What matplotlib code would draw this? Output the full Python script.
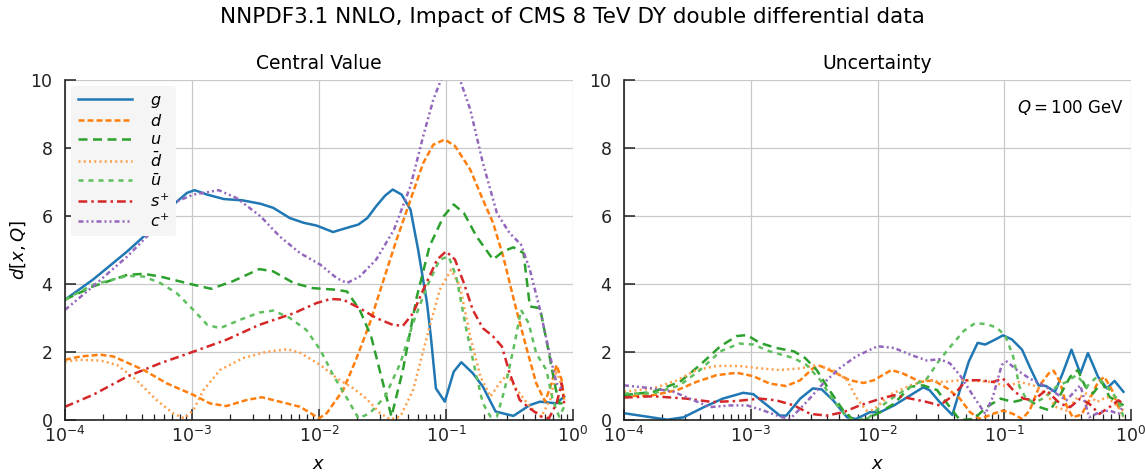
import numpy as np
from matplotlib import pyplot as plt
from matplotlib.ticker import LogLocator, NullFormatter

# ---- Central value panel (log10 x, value) ----
cv_g_lx = [-4, -3.78, -3.51, -3.38, -3.13, -3.04, -2.98, -2.88, -2.75, -2.60, -2.46, -2.36, -2.23, -2.12,
           -2.02, -1.89, -1.81, -1.69, -1.62, -1.55, -1.48, -1.42, -1.35, -1.28, -1.22, -1.15, -1.12, -1.08,
           -1.01, -0.94, -0.88, -0.79, -0.71, -0.61, -0.47, -0.34, -0.26, -0.13, -0.07]
cv_g_y = [3.54, 4.13, 4.96, 5.40, 6.39, 6.68, 6.76, 6.63, 6.50, 6.46, 6.36, 6.24, 5.94, 5.80,
          5.72, 5.53, 5.62, 5.75, 5.94, 6.29, 6.60, 6.78, 6.63, 6.19, 5.01, 3.44, 2.46, 0.93,
          0.54, 1.42, 1.70, 1.38, 0.98, 0.25, 0.12, 0.44, 0.54, 0.49, 0.69]

cv_d_lx = [-4, -3.88, -3.72, -3.62, -3.38, -3.20, -2.99, -2.86, -2.73, -2.57, -2.45, -2.31, -2.15, -2.00,
           -1.94, -1.81, -1.71, -1.60, -1.50, -1.39, -1.28, -1.18, -1.10, -1.01, -0.93, -0.81, -0.71,
           -0.63, -0.55, -0.46, -0.37, -0.29, -0.22, -0.17, -0.13, -0.09, -0.07]
cv_d_y = [1.77, 1.87, 1.92, 1.87, 1.47, 1.08, 0.74, 0.49, 0.41, 0.59, 0.67, 0.54, 0.39, 0.05,
          0.20, 0.88, 1.77, 2.85, 4.03, 5.30, 6.48, 7.56, 8.10, 8.25, 8.06, 7.37, 6.48,
          5.80, 4.81, 3.44, 2.16, 1.08, 0.54, 1.08, 1.62, 1.18, 0.59]

cv_u_lx = [-4, -3.78, -3.51, -3.38, -3.25, -2.99, -2.85, -2.68, -2.47, -2.36, -2.20, -2.05, -1.86, -1.78,
           -1.68, -1.59, -1.51, -1.43, -1.34, -1.23, -1.13, -1.02, -0.94, -0.86, -0.76, -0.63, -0.55,
           -0.47, -0.39, -0.34, -0.26, -0.20, -0.14, -0.11, -0.07]
cv_u_y = [3.54, 3.93, 4.27, 4.30, 4.22, 3.98, 3.86, 4.08, 4.44, 4.37, 4.03, 3.88, 3.83, 3.78,
          3.24, 2.46, 1.28, 0.10, 1.47, 3.63, 5.11, 5.99, 6.34, 6.09, 5.40, 4.72, 4.96,
          5.08, 4.91, 3.34, 3.29, 2.16, 0.98, 0.49, 0.49]

cv_dbar_lx = [-4, -3.88, -3.72, -3.59, -3.44, -3.28, -3.15, -3.06, -2.99, -2.91, -2.78, -2.60, -2.41, -2.25,
              -2.15, -1.99, -1.86, -1.73, -1.63, -1.52, -1.44, -1.36, -1.26, -1.15, -1.05, -0.96, -0.89,
              -0.81, -0.73, -0.65, -0.58, -0.52, -0.44, -0.34, -0.25, -0.18, -0.13, -0.08]
cv_dbar_y = [1.72, 1.77, 1.75, 1.62, 1.18, 0.59, 0.20, 0.05, 0.29, 0.88, 1.47, 1.82, 2.01, 2.08,
             1.98, 1.62, 1.23, 0.93, 0.64, 0.20, 0.02, 0.10, 0.88, 2.46, 3.83, 4.42, 3.93,
             2.46, 1.28, 0.69, 1.08, 1.33, 0.88, 0.39, 0.10, 0.59, 1.47, 0.88]

cv_ubar_lx = [-4, -3.78, -3.51, -3.38, -3.25, -3.12, -2.99, -2.88, -2.78, -2.62, -2.47, -2.36, -2.23, -2.10,
              -1.99, -1.89, -1.78, -1.69, -1.60, -1.48, -1.36, -1.26, -1.15, -1.05, -0.98, -0.92, -0.84,
              -0.76, -0.71, -0.65, -0.60, -0.54, -0.46, -0.41, -0.35, -0.29, -0.21, -0.16, -0.11, -0.07]
cv_ubar_y = [3.54, 3.98, 4.24, 4.22, 4.03, 3.73, 3.24, 2.80, 2.70, 2.95, 3.16, 3.22, 3.00, 2.65,
             2.06, 1.33, 0.64, 0.05, 0.20, 0.69, 1.67, 2.85, 3.93, 4.72, 4.81, 4.22, 2.65,
             1.28, 0.49, 0.10, 0.10, 0.88, 2.26, 3.24, 2.85, 1.96, 1.47, 0.59, 0.10, 0.39]

cv_s_lx = [-4, -3.78, -3.51, -3.25, -2.99, -2.73, -2.47, -2.20, -2.02, -1.91, -1.81, -1.68, -1.55, -1.42,
           -1.34, -1.26, -1.18, -1.07, -1.00, -0.93, -0.86, -0.79, -0.71, -0.63, -0.56, -0.50, -0.42,
           -0.34, -0.25, -0.19, -0.13, -0.09, -0.07]
cv_s_y = [0.39, 0.74, 1.28, 1.67, 2.01, 2.36, 2.80, 3.14, 3.44, 3.56, 3.54, 3.29, 3.00, 2.80,
          2.77, 3.14, 3.83, 4.72, 4.96, 4.72, 4.03, 3.24, 2.70, 2.46, 2.16, 1.38, 0.59,
          0.34, 0.10, 0.05, 0.49, 1.08, 0.49]

cv_c_lx = [-4, -3.78, -3.51, -3.25, -3.12, -2.99, -2.79, -2.65, -2.46, -2.31, -2.15, -1.99, -1.86, -1.78,
           -1.68, -1.55, -1.41, -1.28, -1.18, -1.10, -1.03, -0.96, -0.89, -0.81, -0.71, -0.60, -0.50,
           -0.41, -0.34, -0.26, -0.18, -0.13, -0.08]
cv_c_y = [3.24, 3.93, 4.81, 5.80, 6.43, 6.63, 6.76, 6.53, 5.99, 5.40, 4.91, 4.57, 4.17, 4.03,
          4.22, 4.72, 5.60, 6.88, 8.35, 9.43, 10.1, 10.4, 10.0, 9.14, 7.56, 6.09, 5.50,
          5.16, 4.42, 3.24, 1.87, 1.08, 0.88]

# ---- Uncertainty panel ----
un_g_lx = [-4, -3.82, -3.66, -3.53, -3.37, -3.22, -3.06, -2.98, -2.87, -2.77, -2.72, -2.61, -2.51, -2.44,
           -2.35, -2.24, -2.17, -2.06, -1.98, -1.87, -1.74, -1.64, -1.59, -1.51, -1.41, -1.35, -1.28,
           -1.21, -1.15, -1.07, -1.01, -0.94, -0.86, -0.80, -0.73, -0.67, -0.60, -0.54, -0.47, -0.40,
           -0.34, -0.26, -0.19, -0.13, -0.06]
un_g_y = [0.20, 0.10, 0.01, 0.08, 0.38, 0.63, 0.80, 0.76, 0.43, 0.13, 0.13, 0.63, 0.93, 0.90,
          0.58, 0.08, 0.03, 0.23, 0.23, 0.43, 0.73, 0.96, 0.88, 0.53, 0.15, 0.88, 1.72,
          2.27, 2.22, 2.37, 2.49, 2.37, 2.07, 1.57, 1.02, 1.00, 0.83, 1.37, 2.07, 1.37,
          1.97, 1.27, 0.93, 1.15, 0.83]

un_d_lx = [-4, -3.77, -3.58, -3.43, -3.27, -3.11, -2.98, -2.85, -2.72, -2.61, -2.51, -2.45, -2.35, -2.22,
           -2.11, -2.03, -1.89, -1.80, -1.66, -1.56, -1.45, -1.35, -1.27, -1.19, -1.09, -1.01, -0.93,
           -0.86, -0.80, -0.72, -0.65, -0.61, -0.56, -0.51, -0.46, -0.39, -0.33, -0.26, -0.21, -0.15,
           -0.10, -0.06]
un_d_y = [0.70, 0.73, 0.88, 1.12, 1.32, 1.39, 1.29, 1.07, 1.00, 1.17, 1.52, 1.59, 1.42, 1.17,
          1.09, 1.17, 1.47, 1.37, 1.12, 1.17, 0.93, 0.63, 0.23, 0.03, 0.18, 0.28, 0.18,
          0.03, 0.28, 1.02, 1.37, 1.45, 1.12, 0.43, 0.08, 0.16, 0.58, 1.12, 1.27, 0.88,
          0.38, 0.28]

un_u_lx = [-4, -3.77, -3.56, -3.40, -3.24, -3.11, -3.03, -2.93, -2.80, -2.66, -2.57, -2.48, -2.38, -2.27,
           -2.19, -2.10, -1.98, -1.87, -1.74, -1.64, -1.53, -1.43, -1.35, -1.24, -1.14, -1.03, -0.93,
           -0.82, -0.72, -0.64, -0.56, -0.48, -0.42, -0.36, -0.30, -0.23, -0.17, -0.10, -0.06]
un_u_y = [0.73, 0.83, 1.12, 1.62, 2.17, 2.47, 2.50, 2.27, 2.12, 2.02, 1.82, 1.47, 0.88, 0.28,
          0.0, 0.0, 0.23, 0.48, 0.98, 1.02, 0.88, 0.38, 0.0, 0.03, 0.38, 0.63, 0.53,
          0.63, 0.38, 0.28, 0.73, 1.27, 1.47, 0.98, 0.78, 1.12, 0.68, 0.53, 0.43]

un_dbar_lx = [-4, -3.77, -3.58, -3.43, -3.27, -3.09, -2.93, -2.77, -2.61, -2.48, -2.35, -2.24, -2.17, -2.09,
              -2.03, -1.90, -1.74, -1.61, -1.48, -1.35, -1.22, -1.09, -0.98, -0.88, -0.77, -0.67, -0.59,
              -0.51, -0.43, -0.35, -0.27, -0.19, -0.10, -0.06]
un_dbar_y = [0.83, 0.93, 1.17, 1.47, 1.59, 1.59, 1.52, 1.47, 1.52, 1.62, 1.47, 1.17, 0.68, 0.28,
             0.30, 0.75, 1.02, 1.17, 1.12, 1.17, 1.15, 1.12, 0.98, 1.12, 1.02, 0.78, 0.38,
             0.28, 0.63, 0.78, 0.53, 0.68, 0.38, 0.08]

un_ubar_lx = [-4, -3.77, -3.56, -3.40, -3.24, -3.09, -2.98, -2.85, -2.66, -2.56, -2.45, -2.35, -2.24, -2.19,
              -2.08, -1.98, -1.87, -1.74, -1.61, -1.51, -1.40, -1.32, -1.23, -1.14, -1.06, -0.99, -0.93,
              -0.88, -0.82, -0.75, -0.67, -0.59, -0.51, -0.43, -0.35, -0.27, -0.19, -0.10, -0.06]
un_ubar_y = [0.78, 0.78, 1.02, 1.47, 2.02, 2.25, 2.22, 2.02, 1.82, 1.62, 1.17, 0.58, 0.08, 0.0,
             0.03, 0.38, 0.68, 0.98, 1.22, 1.77, 2.27, 2.62, 2.85, 2.82, 2.72, 2.47, 1.87,
             0.98, 0.58, 0.53, 0.68, 0.98, 1.12, 1.32, 0.98, 1.27, 0.98, 0.58, 0.08]

un_s_lx = [-4, -3.77, -3.51, -3.30, -3.11, -2.93, -2.80, -2.66, -2.53, -2.40, -2.27, -2.14, -2.00, -1.87,
           -1.74, -1.61, -1.51, -1.40, -1.30, -1.19, -1.09, -1.01, -0.93, -0.85, -0.77, -0.67, -0.56,
           -0.48, -0.40, -0.33, -0.25, -0.17, -0.10, -0.06]
un_s_y = [0.66, 0.70, 0.63, 0.53, 0.56, 0.63, 0.58, 0.43, 0.18, 0.13, 0.23, 0.43, 0.60, 0.73,
          0.63, 0.53, 0.43, 0.73, 1.17, 1.17, 1.12, 1.22, 0.88, 0.63, 0.58, 0.88, 0.48,
          0.38, 0.63, 0.48, 0.18, 0.38, 0.58, 0.48]

un_c_lx = [-4, -3.77, -3.61, -3.45, -3.32, -3.16, -3.03, -2.90, -2.77, -2.69, -2.56, -2.43, -2.30, -2.17,
           -2.00, -1.87, -1.74, -1.61, -1.51, -1.43, -1.35, -1.24, -1.15, -1.09, -1.02, -0.98, -0.90,
           -0.80, -0.69, -0.59, -0.51, -0.40, -0.33, -0.25, -0.17, -0.10, -0.06]
un_c_y = [1.02, 0.93, 0.83, 0.58, 0.38, 0.43, 0.43, 0.28, 0.10, 0.03, 0.53, 1.07, 1.52, 1.87,
          2.17, 2.12, 1.92, 1.75, 1.79, 1.67, 1.32, 0.68, 0.18, 0.68, 1.62, 1.72, 1.47,
          1.22, 1.02, 0.78, 0.58, 1.02, 0.08, 0.23, 0.28, 0.18, 0.43]

labels = [r'$g$', r'$d$', r'$u$', r'$\bar{d}$', r'$\bar{u}$', r'$s^{+}$', r'$c^{+}$']
colors = ['#1f77b4', '#ff7f0e', '#2ca02c', '#ff9f4a', '#5fbf5f', '#d62728', '#9467bd']
dashes = [None, (2.4, 1.2), (3.6, 2.2), (0.8, 1.3), (2.0, 2.0), (3.5, 1.6, 1.0, 1.6), (2.0, 1.2, 0.8, 1.2, 0.8, 1.2)]

central = [(cv_g_lx, cv_g_y), (cv_d_lx, cv_d_y), (cv_u_lx, cv_u_y), (cv_dbar_lx, cv_dbar_y),
           (cv_ubar_lx, cv_ubar_y), (cv_s_lx, cv_s_y), (cv_c_lx, cv_c_y)]
uncert = [(un_g_lx, un_g_y), (un_d_lx, un_d_y), (un_u_lx, un_u_y), (un_dbar_lx, un_dbar_y),
          (un_ubar_lx, un_ubar_y), (un_s_lx, un_s_y), (un_c_lx, un_c_y)]

plt.rcParams['font.family'] = ['DejaVu Sans']
plt.rcParams['mathtext.fontset'] = 'dejavusans'

fig = plt.figure(figsize=(11.45, 4.73), dpi=100)
ax1 = fig.add_axes([0.0568, 0.112, 0.4437, 0.7188])
ax2 = fig.add_axes([0.5450, 0.112, 0.4428, 0.7188])


def style_axis(ax, title):
    ax.set_xscale('log')
    ax.set_xlim(1e-4, 1)
    ax.set_ylim(0, 10)
    ax.set_yticks([0, 2, 4, 6, 8, 10])
    ax.xaxis.set_minor_locator(LogLocator(base=10, subs=np.arange(2, 10), numticks=20))
    ax.xaxis.set_minor_formatter(NullFormatter())
    ax.grid(True, which='major', color='#c8c8c8', lw=0.9)
    ax.set_axisbelow(True)
    for side in ['top', 'right']:
        ax.spines[side].set_visible(False)
    for side in ['left', 'bottom']:
        ax.spines[side].set_color('#222222')
        ax.spines[side].set_linewidth(1.2)
    ax.tick_params(axis='both', which='major', direction='in', length=8, width=1.1,
                   labelsize=12.5, colors='#222222')
    ax.tick_params(axis='x', which='major', pad=4)
    ax.tick_params(axis='y', which='major', pad=9)
    ax.tick_params(axis='x', which='minor', direction='in', length=4.5, width=0.9, colors='#222222')
    ax.tick_params(axis='y', which='minor', left=False)
    ax.set_xlabel(r'$x$', fontsize=13, labelpad=7)
    ax.set_title(title, fontsize=13.5, pad=8)


for ax, series, title in [(ax1, central, 'Central Value'), (ax2, uncert, 'Uncertainty')]:
    style_axis(ax, title)
    for (lx, yv), lab, col, ds in zip(series, labels, colors, dashes):
        line, = ax.plot(np.power(10.0, lx), yv, color=col, lw=1.8, label=lab)
        if ds is not None:
            line.set_dashes(ds)

ax1.set_ylabel(r'$d[x,Q]$', fontsize=13, labelpad=2)
leg = ax1.legend(loc='upper left', fontsize=11.5, handlelength=3.4, frameon=True,
                 facecolor='#f5f5f5', edgecolor='none', framealpha=1,
                 borderaxespad=0.4, labelspacing=0.2, handletextpad=1.1)
ax2.text(0.985, 0.92, r'$Q = 100$ GeV', transform=ax2.transAxes, ha='right', va='center', fontsize=12)

fig.suptitle('NNPDF3.1 NNLO, Impact of CMS 8 TeV DY double differential data', fontsize=15.5, y=0.985)

plt.savefig('out.png', dpi=100)
